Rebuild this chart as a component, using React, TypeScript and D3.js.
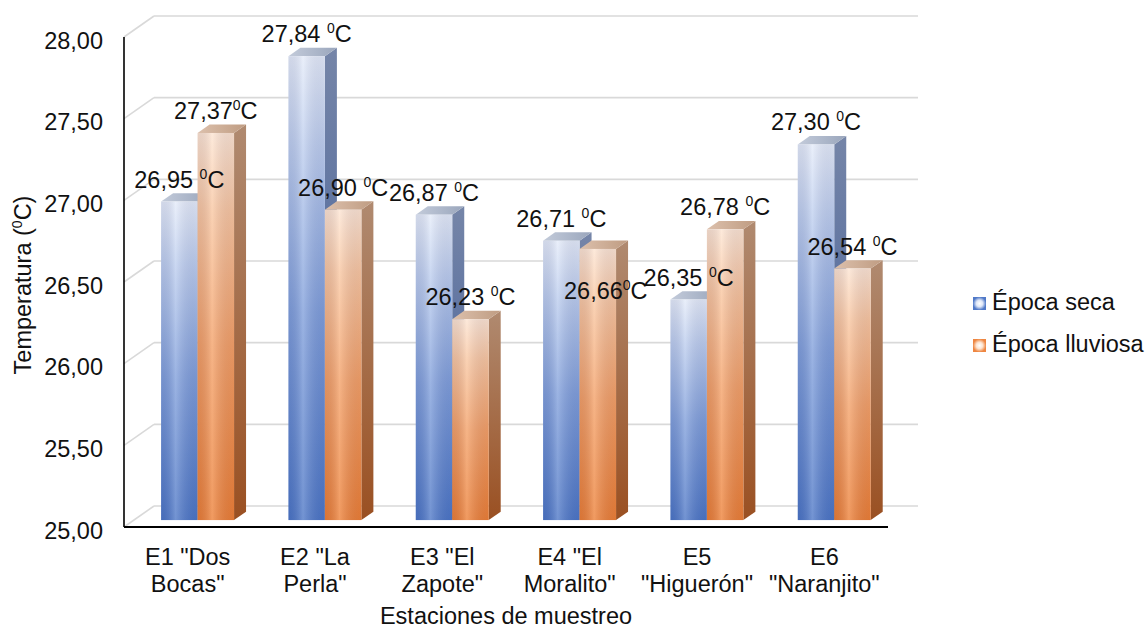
import React from "react";
import * as d3 from "d3";

// Stations (two-line category labels)
const categories: string[][] = [
  ['E1 "Dos', 'Bocas"'],
  ['E2 "La', 'Perla"'],
  ['E3 "El', 'Zapote"'],
  ['E4 "El', 'Moralito"'],
  ["E5", '"Higuerón"'],
  ["E6", '"Naranjito"'],
];

// Mean water temperature (°C) per season
const seca = [26.95, 27.84, 26.87, 26.71, 26.35, 27.3];
const lluviosa = [27.37, 26.9, 26.23, 26.66, 26.78, 26.54];

// Separator between number and unit in each data label
const secaSep = [" ", " ", " ", " ", " ", " "];
const lluviosaSep = ["", " ", " ", "", " ", " "];

const seriesNames = ["Época seca", "Época lluviosa"];
const yTicks = [25, 25.5, 26, 26.5, 27, 27.5, 28];

const W = 1146;
const H = 629;
const FONT = "'Liberation Sans', Arial, sans-serif";
const FS = 23.5;

// Plot frame (front plane) and 3D depth of the chart box
const left = 124;
const right = 888;
const DEPTH = { dx: 30, dy: -21 };
const BAR_FRONT = 0.33; // fraction of depth where bar front faces sit
const BAR_DEPTH = 0.4; // fraction of depth occupied by each bar

const yFront = d3.scaleLinear().domain([25, 28]).range([527, 37]);
const x = d3
  .scaleBand<number>()
  .domain(d3.range(categories.length))
  .range([left, right])
  .paddingInner(0.427)
  .paddingOuter(0.2135);
const xs = d3.scaleBand<number>().domain([0, 1]).range([0, x.bandwidth()]);

const fmt = (v: number) => v.toFixed(2).replace(".", ",");

// Manual nudge for a label that was moved off its bar top
const labelNudge: Record<string, { dx: number; dy: number }> = {
  "1-3": { dx: 8, dy: 64 },
};

function Bar({ i, s, v }: { i: number; s: number; v: number }) {
  const ox = DEPTH.dx * BAR_FRONT;
  const oy = DEPTH.dy * BAR_FRONT;
  const bx = DEPTH.dx * BAR_DEPTH;
  const by = DEPTH.dy * BAR_DEPTH;
  const x0 = (x(i) as number) + (xs(s) as number) + ox;
  const x1 = x0 + xs.bandwidth();
  const yTop = yFront(v) + oy;
  const yBot = yFront(25) + oy;
  const key = s === 0 ? "b" : "o";
  const side = `M${x1},${yTop} L${x1 + bx},${yTop + by} L${x1 + bx},${yBot + by} L${x1},${yBot} Z`;
  const top = `M${x0},${yTop} L${x0 + bx},${yTop + by} L${x1 + bx},${yTop + by} L${x1},${yTop} Z`;
  return (
    <g>
      <path d={side} fill={`url(#${key}-side)`} />
      <path d={top} fill={`url(#${key}-top)`} />
      <rect x={x0} y={yTop} width={x1 - x0} height={yBot - yTop} fill={`url(#${key}-front)`} />
      <rect x={x0} y={yTop} width={x1 - x0} height={yBot - yTop} fill="url(#sheen)" />
    </g>
  );
}

function Label({ i, s, v, sep }: { i: number; s: number; v: number; sep: string }) {
  const ox = DEPTH.dx * BAR_FRONT;
  const oy = DEPTH.dy * BAR_FRONT;
  const cx = (x(i) as number) + (xs(s) as number) + ox + xs.bandwidth() / 2;
  const nudge = labelNudge[`${s}-${i}`] || { dx: 0, dy: 0 };
  const base = yFront(v) + oy - 14;
  return (
    <text
      x={cx + nudge.dx}
      y={base + nudge.dy}
      textAnchor="middle"
      fontFamily={FONT}
      fontSize={FS}
      fill="#111"
    >
      {fmt(v) + sep}
      <tspan fontSize={14} dy={-9}>0</tspan>
      <tspan dy={9}>C</tspan>
    </text>
  );
}

export default function App() {
  const gridColor = "#d9d9d9";
  return (
    <svg
      width={W}
      height={H}
      viewBox={`0 0 ${W} ${H}`}
      style={{ position: "absolute", left: 0, top: 0, background: "#fff" }}
    >
      <defs>
        <linearGradient id="b-front" x1="0" y1="0" x2="0" y2="1">
          <stop offset="0" stopColor="#e4ebf9" />
          <stop offset="0.2" stopColor="#bccdee" />
          <stop offset="0.55" stopColor="#809fdb" />
          <stop offset="1" stopColor="#4c76c6" />
        </linearGradient>
        <linearGradient id="o-front" x1="0" y1="0" x2="0" y2="1">
          <stop offset="0" stopColor="#fde4d1" />
          <stop offset="0.2" stopColor="#f9c6a0" />
          <stop offset="0.55" stopColor="#f4a066" />
          <stop offset="1" stopColor="#ed7f35" />
        </linearGradient>
        <linearGradient id="sheen" x1="0" y1="0" x2="1" y2="0">
          <stop offset="0" stopColor="#000030" stopOpacity="0.08" />
          <stop offset="0.4" stopColor="#ffffff" stopOpacity="0.22" />
          <stop offset="1" stopColor="#000030" stopOpacity="0.06" />
        </linearGradient>
        <linearGradient id="b-side" x1="0" y1="0" x2="0" y2="1">
          <stop offset="0" stopColor="#7585a8" />
          <stop offset="1" stopColor="#3d5a96" />
        </linearGradient>
        <linearGradient id="o-side" x1="0" y1="0" x2="0" y2="1">
          <stop offset="0" stopColor="#b08a70" />
          <stop offset="1" stopColor="#9a5022" />
        </linearGradient>
        <linearGradient id="b-top" x1="0" y1="0" x2="1" y2="0">
          <stop offset="0" stopColor="#c3cbda" />
          <stop offset="1" stopColor="#9aa6bc" />
        </linearGradient>
        <linearGradient id="o-top" x1="0" y1="0" x2="1" y2="0">
          <stop offset="0" stopColor="#dcc0ac" />
          <stop offset="1" stopColor="#bf9c82" />
        </linearGradient>
        <radialGradient id="b-key">
          <stop offset="0" stopColor="#ffffff" />
          <stop offset="0.5" stopColor="#dfe7f7" />
          <stop offset="1" stopColor="#5079c8" />
        </radialGradient>
        <radialGradient id="o-key">
          <stop offset="0" stopColor="#ffffff" />
          <stop offset="0.5" stopColor="#fde4d0" />
          <stop offset="1" stopColor="#ee8641" />
        </radialGradient>
      </defs>

      {/* back wall gridlines and side-wall diagonals */}
      <g stroke={gridColor} strokeWidth={1.6} fill="none">
        {yTicks.map((t) => (
          <g key={t}>
            <line
              x1={left}
              y1={yFront(t)}
              x2={left + DEPTH.dx}
              y2={yFront(t) + DEPTH.dy}
            />
            <line
              x1={left + DEPTH.dx}
              y1={yFront(t) + DEPTH.dy}
              x2={right + DEPTH.dx}
              y2={yFront(t) + DEPTH.dy}
            />
          </g>
        ))}
      </g>

      {/* bars */}
      {categories.map((_, i) => (
        <g key={i}>
          <Bar i={i} s={0} v={seca[i]} />
          <Bar i={i} s={1} v={lluviosa[i]} />
        </g>
      ))}

      {/* axes */}
      <line x1={left} y1={yFront(28)} x2={left} y2={yFront(25)} stroke="#000" strokeWidth={1.6} />
      <line x1={left} y1={yFront(25)} x2={right} y2={yFront(25)} stroke="#000" strokeWidth={2} />

      {/* y tick labels */}
      {yTicks.map((t) => (
        <text
          key={t}
          x={103}
          y={yFront(t) + 3.5}
          dy="0.35em"
          textAnchor="end"
          fontFamily={FONT}
          fontSize={FS}
          fill="#111"
        >
          {fmt(t)}
        </text>
      ))}

      {/* category labels */}
      {categories.map((lines, i) => {
        const cx = (x(i) as number) + x.bandwidth() / 2;
        return (
          <text key={i} textAnchor="middle" fontFamily={FONT} fontSize={FS} fill="#111">
            <tspan x={cx} y={565}>{lines[0]}</tspan>
            <tspan x={cx} y={592}>{lines[1]}</tspan>
          </text>
        );
      })}

      {/* data labels */}
      {categories.map((_, i) => (
        <g key={i}>
          <Label i={i} s={0} v={seca[i]} sep={secaSep[i]} />
          <Label i={i} s={1} v={lluviosa[i]} sep={lluviosaSep[i]} />
        </g>
      ))}

      {/* axis titles */}
      <text
        x={(left + right) / 2}
        y={624}
        textAnchor="middle"
        fontFamily={FONT}
        fontSize={FS}
        fill="#111"
      >
        Estaciones de muestreo
      </text>
      <text
        transform="translate(31,285) rotate(-90)"
        textAnchor="middle"
        fontFamily={FONT}
        fontSize={FS}
        fill="#111"
      >
        Temperatura (<tspan fontSize={14} dy={-9}>0</tspan>
        <tspan dy={9}>C)</tspan>
      </text>

      {/* legend */}
      {seriesNames.map((name, k) => (
        <g key={name} transform={`translate(973, ${297 + k * 42})`}>
          <rect width={13} height={13} fill={`url(#${k === 0 ? "b" : "o"}-key)`} />
          <text x={19} y={13} fontFamily={FONT} fontSize={FS} fill="#111">
            {name}
          </text>
        </g>
      ))}
    </svg>
  );
}
